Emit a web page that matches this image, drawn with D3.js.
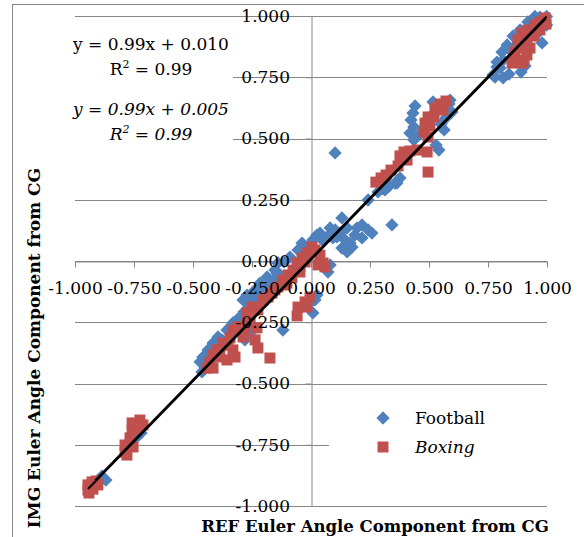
<!DOCTYPE html>
<html>
<head>
<meta charset="utf-8">
<script src="https://cdn.jsdelivr.net/npm/d3@7"></script>
<style>
  body { margin: 0; background: #fff; }
  svg { display: block; }
</style>
</head>
<body>
<svg id="chart" width="584" height="537"></svg>
<script>
// values: [REF, IMG]
const football = [
  [0.771,0.759],[0.801,0.788],[0.814,0.747],[0.788,0.812],[0.809,0.853],[0.831,0.882],[0.856,0.918],
  [0.886,0.943],[0.919,0.976],[0.949,0.998],[0.998,0.998],[0.998,0.963],[0.979,0.890],[0.890,0.771],
  [0.907,0.796],[0.839,0.763],[0.970,0.995],[0.780,0.751],[0.814,0.820],[0.843,0.861],[0.915,0.935],
  [0.941,0.955],[0.970,0.984],[0.983,0.963],[0.788,0.792],[0.869,0.882],[0.953,0.922],[0.992,0.976],
  [0.877,0.820],
  [0.441,0.633],[0.432,0.604],[0.424,0.576],[0.436,0.547],[0.419,0.522],[0.436,0.494],[0.462,0.518],
  [0.517,0.649],[0.585,0.641],[0.572,0.584],[0.551,0.559],[0.597,0.608],[0.530,0.473],[0.542,0.453],
  [0.356,0.318],[0.331,0.306],[0.305,0.294],[0.242,0.249],[0.102,0.441],[0.589,0.657],[0.564,0.535],
  [0.377,0.339],[0.284,0.282],
  [0.123,0.114],[0.153,0.135],[0.195,0.135],[0.216,0.147],[0.165,0.073],[0.131,0.053],[0.093,0.094],
  [0.068,0.098],[0.025,0.106],[0.008,0.086],[-0.017,0.057],[-0.055,0.045],[-0.089,0.016],[-0.140,-0.008],
  [-0.153,-0.037],[-0.186,-0.065],[-0.216,-0.090],[-0.237,-0.118],[-0.271,-0.139],[-0.288,-0.159],
  [0.025,-0.139],[-0.004,-0.171],[0.081,-0.016],[0.072,-0.045],[0.131,0.176],[0.081,0.135],[0.038,0.114],
  [0.110,0.098],[0.144,0.086],[0.174,0.057],[0.242,0.127],[0.258,0.114],[0.343,0.147],[0.314,0.290],
  [0.364,0.318],[0.008,-0.212],[0.017,-0.159],
  [-0.114,-0.004],[-0.195,-0.110],[-0.250,-0.151],[-0.038,0.073],[0.047,0.086],[0.102,0.127],
  [0.186,0.106],[0.216,0.094],[0.153,0.037],
  [-0.237,-0.159],[-0.271,-0.200],[-0.301,-0.229],[-0.331,-0.253],[-0.356,-0.282],[-0.394,-0.310],
  [-0.415,-0.335],[-0.436,-0.363],[-0.458,-0.392],[-0.470,-0.412],[-0.462,-0.453],[-0.258,-0.294],
  [-0.280,-0.322],[-0.216,-0.147],[-0.186,-0.118],[-0.161,-0.078],[-0.144,-0.049],[-0.119,-0.282],
  [-0.246,-0.171],[-0.318,-0.282],[-0.364,-0.343],[-0.449,-0.433],
  [-0.441,-0.404],[-0.419,-0.371],[-0.377,-0.322],[-0.343,-0.269],[-0.314,-0.241],[-0.284,-0.208],
  [-0.258,-0.180],[-0.195,-0.131],[-0.174,-0.098],[-0.131,-0.057],
  [-0.720,-0.702],[-0.737,-0.718],[-0.886,-0.878],[-0.869,-0.894],[-0.915,-0.914]
];

const boxing = [
  [0.992,0.992],[0.970,0.976],[0.949,0.963],[0.919,0.943],[0.894,0.931],[0.970,0.943],[0.945,0.918],
  [0.915,0.902],[0.877,0.902],[0.928,0.869],[0.886,0.869],[0.864,0.853],[0.915,0.841],[0.860,0.829],
  [0.903,0.820],[0.852,0.808],[0.894,0.808],[0.996,0.967],
  [0.572,0.653],[0.547,0.641],[0.525,0.624],[0.559,0.616],[0.496,0.588],[0.521,0.588],[0.483,0.563],
  [0.504,0.551],[0.479,0.527],[0.496,0.506],[0.492,0.445],[0.394,0.445],[0.419,0.449],[0.377,0.429],
  [0.407,0.412],[0.369,0.388],[0.339,0.371],[0.318,0.351],[0.297,0.339],[0.275,0.322],[0.496,0.363],
  [0.449,0.453],
  [0.004,0.057],[-0.017,0.033],[-0.038,0.012],[0.038,0.024],[0.051,-0.008],[-0.059,-0.008],[-0.076,-0.037],
  [-0.097,-0.057],[-0.119,-0.078],[-0.140,-0.106],[-0.165,-0.131],[-0.203,-0.159],[-0.250,-0.188],
  [-0.271,-0.212],[-0.004,-0.147],[-0.025,-0.167],[-0.055,-0.188],[0.059,-0.024],[-0.059,-0.224],
  [-0.102,-0.090],[-0.047,-0.024],[-0.017,-0.188],
  [-0.182,-0.147],[-0.153,-0.118],[-0.110,-0.098],[-0.081,-0.069],[-0.047,-0.045],[-0.025,-0.004],
  [0.017,0.045],[-0.225,-0.200],[0.030,-0.016],
  [-0.331,-0.282],[-0.309,-0.269],[-0.343,-0.314],[-0.373,-0.335],[-0.386,-0.363],[-0.415,-0.384],
  [-0.428,-0.412],[-0.441,-0.437],[-0.415,-0.437],[-0.331,-0.363],[-0.322,-0.392],[-0.356,-0.404],
  [-0.237,-0.322],[-0.225,-0.355],[-0.174,-0.396],[-0.229,-0.273],[-0.271,-0.253],[-0.288,-0.310],
  [-0.398,-0.363],[-0.301,-0.269],
  [-0.352,-0.343],[-0.394,-0.392],[-0.280,-0.282],[-0.258,-0.241],
  [-0.788,-0.780],[-0.788,-0.751],[-0.767,-0.722],[-0.758,-0.690],[-0.758,-0.661],[-0.725,-0.649],
  [-0.712,-0.669],[-0.733,-0.682],[-0.754,-0.759],[-0.780,-0.792],
  [-0.945,-0.914],[-0.928,-0.902],[-0.911,-0.898],[-0.945,-0.935],[-0.924,-0.931],[-0.941,-0.947],
  [-0.903,-0.914]
];

const tickValues = [-1, -0.75, -0.5, -0.25, 0, 0.25, 0.5, 0.75, 1];
const seriesNames = ["Football", "Boxing"];
const slopes = [0.99, 0.99];
const intercepts = [0.010, 0.005];
const equations = ["y = 0.99x + 0.010", "y = 0.99x + 0.005"];
const rSquared = ["0.99", "0.99"];

const blue = "#4f81bd", red = "#c0504d", grey = "#868686";
const font = "'DejaVu Serif', 'Liberation Serif', serif";

const svg = d3.select("#chart");

const x = d3.scaleLinear().domain([-1, 1]).range([75, 547]);
const y = d3.scaleLinear().domain([-1, 1]).range([506, 16]);

// chart area border
svg.append("rect")
    .attr("x", 12.5).attr("y", 4.5)
    .attr("width", 800).attr("height", 800)
    .attr("fill", "none").attr("stroke", grey);

// horizontal gridlines
svg.append("g").selectAll("line")
    .data(tickValues)
    .enter().append("line")
    .attr("x1", x(-1)).attr("x2", x(1))
    .attr("y1", d => Math.round(y(d)) + 0.5).attr("y2", d => Math.round(y(d)) + 0.5)
    .attr("stroke", grey);

// axis lines and tick marks (labels drawn later, over the markers)
const xAxisLines = svg.append("g")
    .attr("transform", "translate(0," + (Math.round(y(0)) + 0.5) + ")")
    .call(d3.axisBottom(x).tickValues(tickValues).tickSize(6).tickSizeOuter(0).tickFormat(""));
const yAxisLines = svg.append("g")
    .attr("transform", "translate(" + (Math.round(x(0)) + 0.5) + ",0)")
    .call(d3.axisLeft(y).tickValues(tickValues).tickSize(6).tickSizeOuter(0).tickFormat(""));
[xAxisLines, yAxisLines].forEach(g => {
    g.selectAll("path, line").attr("stroke", grey);
    g.selectAll("text").remove();
});

const diamond = d3.symbol().type(d3.symbolSquare).size(88);
const square = d3.symbol().type(d3.symbolSquare).size(121);

svg.append("g").selectAll("path")
    .data(football)
    .enter().append("path")
    .attr("d", diamond)
    .attr("transform", d => "translate(" + x(d[0]) + "," + y(d[1]) + ") rotate(45)")
    .attr("fill", blue);

svg.append("g").selectAll("path")
    .data(boxing)
    .enter().append("path")
    .attr("d", square)
    .attr("transform", d => "translate(" + x(d[0]) + "," + y(d[1]) + ")")
    .attr("fill", red);

// linear trendlines over the range of each series
[football, boxing].forEach((data, i) => {
    const ext = d3.extent(data, d => d[0]);
    svg.append("line")
        .attr("x1", x(ext[0])).attr("y1", y(slopes[i] * ext[0] + intercepts[i]))
        .attr("x2", x(ext[1])).attr("y2", y(slopes[i] * ext[1] + intercepts[i]))
        .attr("stroke", "#000").attr("stroke-width", 2);
});

// tick labels
const xLabels = svg.append("g")
    .attr("transform", "translate(0," + y(0) + ")")
    .call(d3.axisBottom(x).tickValues(tickValues).tickSize(6).tickPadding(15).tickFormat(d => d.toFixed(3)));
const yLabels = svg.append("g")
    .attr("transform", "translate(" + x(0) + ",0)")
    .call(d3.axisLeft(y).tickValues(tickValues).tickSize(6).tickPadding(15).tickFormat(d => d.toFixed(3)));
[xLabels, yLabels].forEach(g => {
    g.selectAll("path, line").remove();
    g.selectAll("text")
        .attr("font-family", font).attr("font-size", 17).attr("fill", "#000");
});

// trendline equation labels
const eqTop = [28, 93];
const eqBase = [50, 115];
equations.forEach((eq, i) => {
    svg.append("rect")
        .attr("x", 62).attr("y", eqTop[i])
        .attr("width", 171).attr("height", 54)
        .attr("fill", "#fff");
    const t = svg.append("text")
        .attr("font-family", font).attr("font-size", 17)
        .attr("font-style", i === 1 ? "italic" : "normal")
        .attr("text-anchor", "middle");
    t.append("tspan").attr("x", 151).attr("y", eqBase[i]).text(eq);
    const r = t.append("tspan").attr("x", 151).attr("y", eqBase[i] + 25);
    r.append("tspan").text("R");
    r.append("tspan").attr("font-size", 11).attr("dy", -7).text("2");
    r.append("tspan").attr("dy", 7).text(" = " + rSquared[i]);
});

// axis titles
svg.append("text")
    .attr("x", 375).attr("y", 531.5)
    .attr("text-anchor", "middle")
    .attr("font-family", font).attr("font-size", 16.5).attr("font-weight", "bold")
    .text("REF Euler Angle Component from CG");
svg.append("text")
    .attr("transform", "translate(40,348) rotate(-90)")
    .attr("text-anchor", "middle")
    .attr("font-family", font).attr("font-size", 17).attr("font-weight", "bold")
    .text("IMG Euler Angle Component from CG");

// legend
const legend = svg.append("g");
legend.append("rect")
    .attr("x", 329).attr("y", 396)
    .attr("width", 240).attr("height", 98)
    .attr("fill", "#fff");
legend.append("path")
    .attr("d", diamond)
    .attr("transform", "translate(383,418) rotate(45)")
    .attr("fill", blue);
legend.append("path")
    .attr("d", square)
    .attr("transform", "translate(383,447)")
    .attr("fill", red);
legend.selectAll("text")
    .data(seriesNames)
    .enter().append("text")
    .attr("x", 415)
    .attr("y", (d, i) => 424 + i * 29)
    .attr("font-family", font).attr("font-size", 17)
    .attr("font-style", (d, i) => i === 1 ? "italic" : "normal")
    .text(d => d);
</script>
</body>
</html>
